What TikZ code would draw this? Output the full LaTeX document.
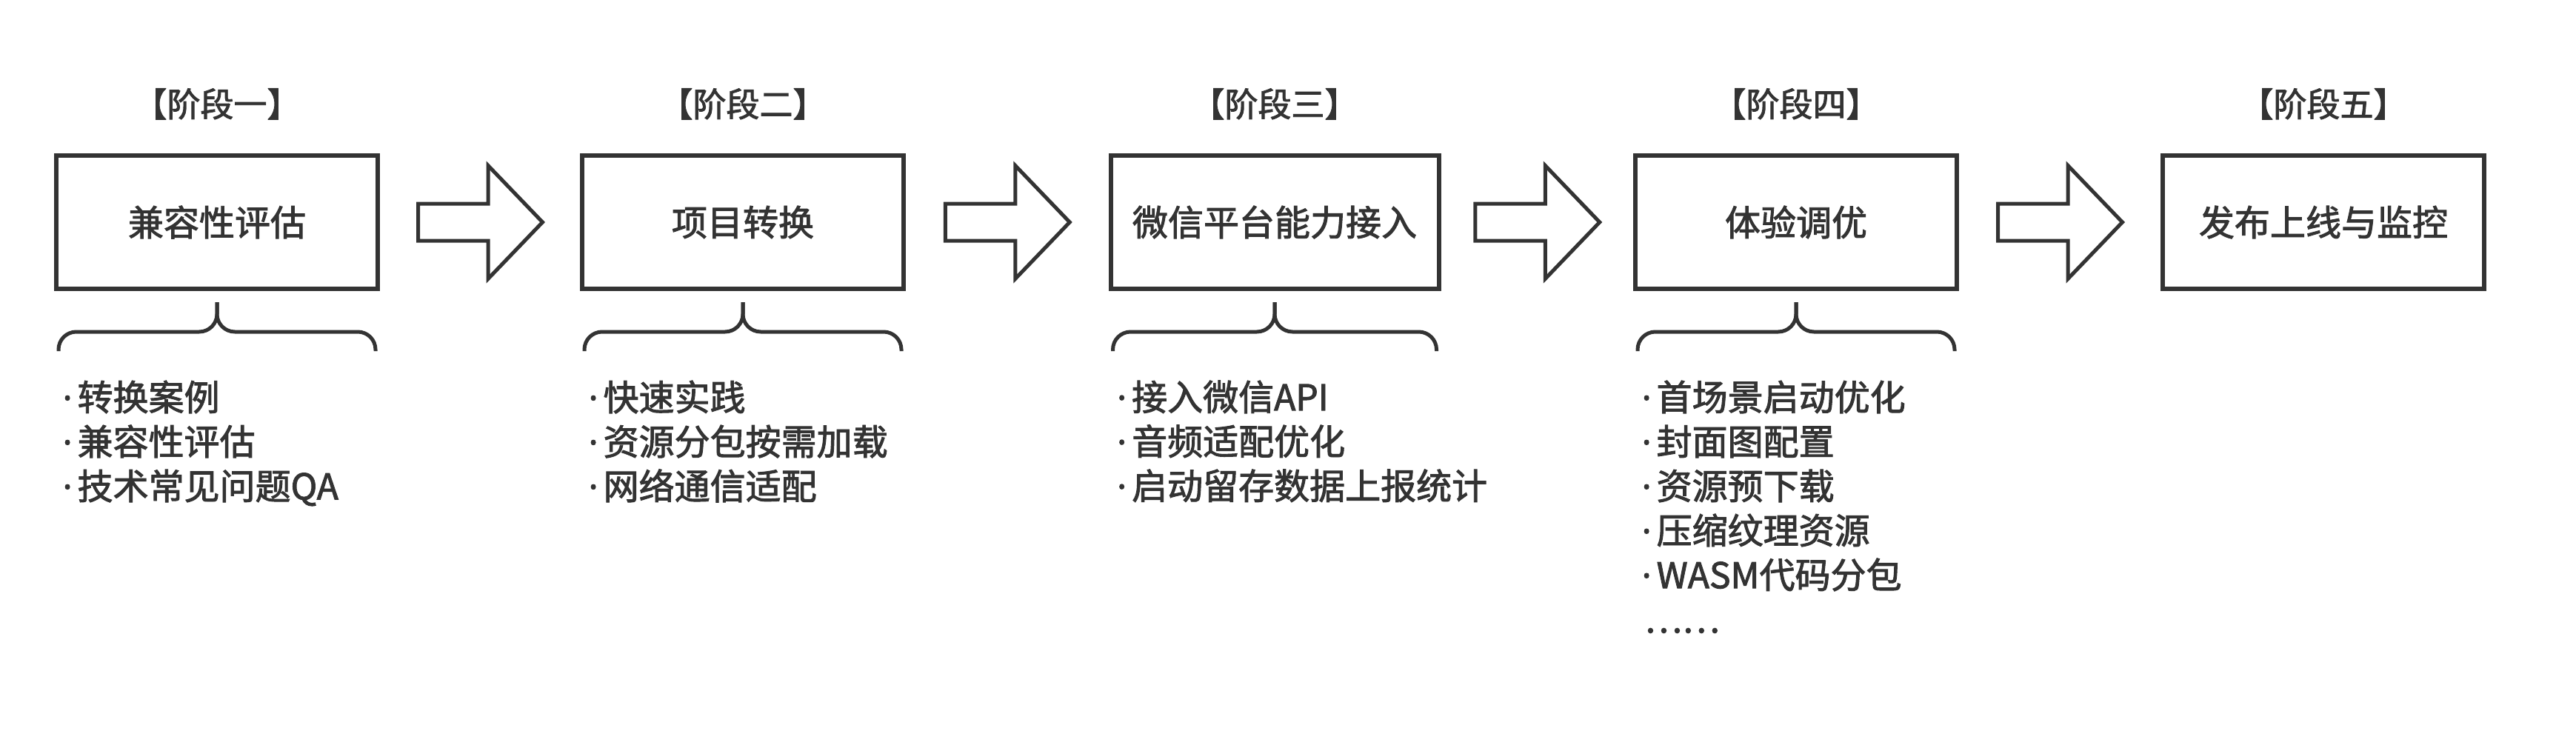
\documentclass[tikz,border=0pt]{standalone}
\usepackage{fontspec}
\setmainfont{Noto Sans CJK SC}[RawFeature={embolden=2}]
\newfontfamily\dotfont{Noto Sans}[RawFeature={embolden=2}]
\newcommand{\itm}{{\dotfont ·}\kern2pt}
\usetikzlibrary{positioning,calc}
\definecolor{ink}{HTML}{333333}

\begin{document}
\begin{tikzpicture}[node distance=0.45cm,
    stage/.style={rectangle,draw=ink,line width=0.06cm,minimum width=4.34cm,
      minimum height=1.8cm,text=ink,font=\fontsize{13.66pt}{16pt}\selectfont},
    phase/.style={text=ink,inner sep=0pt,font=\fontsize{12.8pt}{15pt}\selectfont},
    items/.style={text=ink,inner sep=0pt,align=left,
      font=\fontsize{13.66pt}{17.07pt}\selectfont},
    brace/.style={draw=ink,line width=0.05cm,rounded corners=0.24cm},
    blockarrow/.style={draw=ink,line width=0.05cm,line join=miter}]
  \useasboundingbox (0,0) rectangle (34.78,-10.13);

  % stages
  \node[stage] (b1) at (2.93,-3) {兼容性评估};
  \node[stage] (b2) at (10.03,-3) {项目转换};
  \node[stage,minimum width=4.43cm] (b3) at (17.21,-3) {微信平台能力接入};
  \node[stage] (b4) at (24.25,-3) {体验调优};
  \node[stage] (b5) at (31.37,-3) {发布上线与监控};

  \node[phase,above=of b1] (p1) {【阶段一】};
  \node[phase,above=of b2] (p2) {【阶段二】};
  \node[phase,above=of b3] (p3) {【阶段三】};
  \node[phase,above=of b4] (p4) {【阶段四】};
  \node[phase,above=of b5] (p5) {【阶段五】};

  % arrows between stages
  \draw[blockarrow] ($(b1.east)!0.5!(b2.west)+(-0.835,0.25)$) -- ++(0.945,0) -- ++(0,0.515)
    -- ++(0.735,-0.765) -- ++(-0.735,-0.765) -- ++(0,0.515) -- ++(-0.945,0) -- cycle;
  \draw[blockarrow] ($(b2.east)!0.5!(b3.west)+(-0.835,0.25)$) -- ++(0.945,0) -- ++(0,0.515)
    -- ++(0.735,-0.765) -- ++(-0.735,-0.765) -- ++(0,0.515) -- ++(-0.945,0) -- cycle;
  \draw[blockarrow] ($(b3.east)!0.5!(b4.west)+(-0.835,0.25)$) -- ++(0.945,0) -- ++(0,0.515)
    -- ++(0.735,-0.765) -- ++(-0.735,-0.765) -- ++(0,0.515) -- ++(-0.945,0) -- cycle;
  \draw[blockarrow] ($(b4.east)!0.5!(b5.west)+(-0.835,0.25)$) -- ++(0.945,0) -- ++(0,0.515)
    -- ++(0.735,-0.765) -- ++(-0.735,-0.765) -- ++(0,0.515) -- ++(-0.945,0) -- cycle;

  % braces
  \draw[brace] ($(b1.south west)+(0.06,-0.81)$) |- ($(b1.south)+(0,-0.55)$) -- ($(b1.south)+(0,-0.15)$);
  \draw[brace] ($(b1.south east)+(-0.06,-0.81)$) |- ($(b1.south)+(0,-0.55)$) -- ($(b1.south)+(0,-0.15)$);
  \draw[brace] ($(b2.south west)+(0.06,-0.81)$) |- ($(b2.south)+(0,-0.55)$) -- ($(b2.south)+(0,-0.15)$);
  \draw[brace] ($(b2.south east)+(-0.06,-0.81)$) |- ($(b2.south)+(0,-0.55)$) -- ($(b2.south)+(0,-0.15)$);
  \draw[brace] ($(b3.south west)+(0.06,-0.81)$) |- ($(b3.south)+(0,-0.55)$) -- ($(b3.south)+(0,-0.15)$);
  \draw[brace] ($(b3.south east)+(-0.06,-0.81)$) |- ($(b3.south)+(0,-0.55)$) -- ($(b3.south)+(0,-0.15)$);
  \draw[brace] ($(b4.south west)+(0.06,-0.81)$) |- ($(b4.south)+(0,-0.55)$) -- ($(b4.south)+(0,-0.15)$);
  \draw[brace] ($(b4.south east)+(-0.06,-0.81)$) |- ($(b4.south)+(0,-0.55)$) -- ($(b4.south)+(0,-0.15)$);

  % item lists
  \node[items,below right=1.2cm and 0.11cm of b1.south west] (l1)
    {\itm 转换案例\\\itm 兼容性评估\\\itm 技术常见问题QA};
  \node[items,below right=1.2cm and 0.11cm of b2.south west] (l2)
    {\itm 快速实践\\\itm 资源分包按需加载\\\itm 网络通信适配};
  \node[items,below right=1.2cm and 0.11cm of b3.south west] (l3)
    {\itm 接入微信API\\\itm 音频适配优化\\\itm 启动留存数据上报统计};
  \node[items,below right=1.2cm and 0.11cm of b4.south west] (l4)
    {\itm 首场景启动优化\\\itm 封面图配置\\\itm 资源预下载\\\itm 压缩纹理资源\\\itm WASM代码分包\\\kern1pt……};
\end{tikzpicture}
\end{document}
